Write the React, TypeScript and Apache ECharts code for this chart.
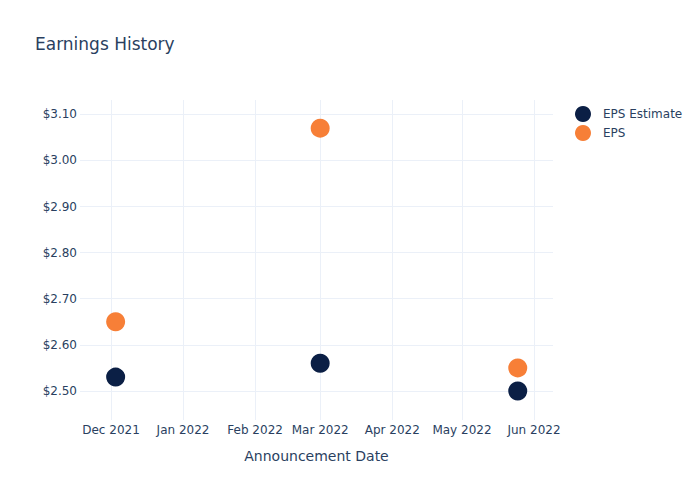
import React, { useEffect, useRef } from "react";
import * as echarts from "echarts";

const dates = ["2021-12-03", "2022-03-01", "2022-05-25"];
const epsEstimate = [2.53, 2.56, 2.5];
const eps = [2.65, 3.07, 2.55];
const yTicks = [2.5, 2.6, 2.7, 2.8, 2.9, 3.0, 3.1];
const xTicks = ["2021-12-01", "2022-01-01", "2022-02-01", "2022-03-01", "2022-04-01", "2022-05-01", "2022-06-01"];
const monthNames = ["Jan", "Feb", "Mar", "Apr", "May", "Jun", "Jul", "Aug", "Sep", "Oct", "Nov", "Dec"];

const FONT = "DejaVu Sans";
const TEXT = "#2a3f5f";
const GRID = "#ebf0f8";

export default function App() {
  const ref = useRef<HTMLDivElement>(null);
  useEffect(() => {
    document.body.style.margin = "0";
    if (!ref.current) return;
    const chart = echarts.init(ref.current, null, { renderer: "svg" });
    const toMs = (d: string) => Date.UTC(+d.slice(0, 4), +d.slice(5, 7) - 1, +d.slice(8, 10));
    const gridLine = { color: GRID, width: 1, type: "solid" as const };
    chart.setOption({
      animation: false,
      backgroundColor: "#ffffff",
      textStyle: { fontFamily: FONT, color: TEXT },
      title: {
        text: "Earnings History",
        left: 35,
        top: 35,
        padding: 0,
        textStyle: { fontFamily: FONT, fontSize: 17, fontWeight: "normal", color: TEXT },
      },
      legend: {
        orient: "vertical",
        left: 570,
        top: 101,
        itemWidth: 30,
        itemHeight: 16,
        itemGap: 3,
        icon: "circle",
        textStyle: { fontFamily: FONT, fontSize: 12, color: TEXT },
        data: ["EPS Estimate", "EPS"],
      },
      grid: { left: 80, right: 147, top: 100, bottom: 80, containLabel: false },
      xAxis: {
        type: "time",
        min: Date.UTC(2021, 10, 17, 16),
        max: Date.UTC(2022, 5, 9, 4),
        minInterval: 27 * 86400000,
        maxInterval: 32 * 86400000,
        name: "Announcement Date",
        nameLocation: "middle",
        nameGap: 29,
        nameTextStyle: { fontFamily: FONT, fontSize: 14, color: TEXT },
        axisLine: { show: false },
        axisTick: { show: false },
        axisLabel: {
          margin: 4,
          fontFamily: FONT,
          fontSize: 12,
          color: TEXT,
          showMinLabel: false,
          showMaxLabel: false,
          formatter: (v: number) => {
            const d = new Date(v);
            return monthNames[d.getUTCMonth()] + " " + d.getUTCFullYear();
          },
        },
        splitLine: { show: false },
      },
      yAxis: {
        type: "value",
        min: 2.437,
        max: 3.131,
        splitNumber: 7,
        axisLine: { show: false },
        axisTick: { show: false },
        axisLabel: {
          margin: 3,
          fontFamily: FONT,
          fontSize: 12,
          color: TEXT,
          showMinLabel: false,
          showMaxLabel: false,
          formatter: (v: number) => "$" + v.toFixed(2),
        },
        splitLine: { show: false },
      },
      series: [
        {
          name: "gridlines",
          type: "scatter",
          data: [],
          z: 0,
          silent: true,
          markLine: {
            silent: true,
            z: 0,
            symbol: "none",
            label: { show: false },
            lineStyle: gridLine,
            emphasis: { disabled: true },
            data: [
              ...yTicks.map((v) => ({ yAxis: v, lineStyle: gridLine })),
              ...xTicks.map((d) => ({ xAxis: toMs(d), lineStyle: gridLine })),
            ],
          },
        },
        {
          name: "EPS Estimate",
          type: "scatter",
          symbol: "circle",
          symbolSize: 19,
          z: 5,
          zlevel: 0,
          itemStyle: { color: "#0b1f45", opacity: 1 },
          data: dates.map((d, i) => [toMs(d), epsEstimate[i]]),
        },
        {
          name: "EPS",
          type: "scatter",
          symbol: "circle",
          symbolSize: 19,
          z: 6,
          itemStyle: { color: "#f77f37", opacity: 1 },
          data: dates.map((d, i) => [toMs(d), eps[i]]),
        },
      ],
    });
    return () => chart.dispose();
  }, []);
  return <div ref={ref} style={{ width: 700, height: 500 }} />;
}
